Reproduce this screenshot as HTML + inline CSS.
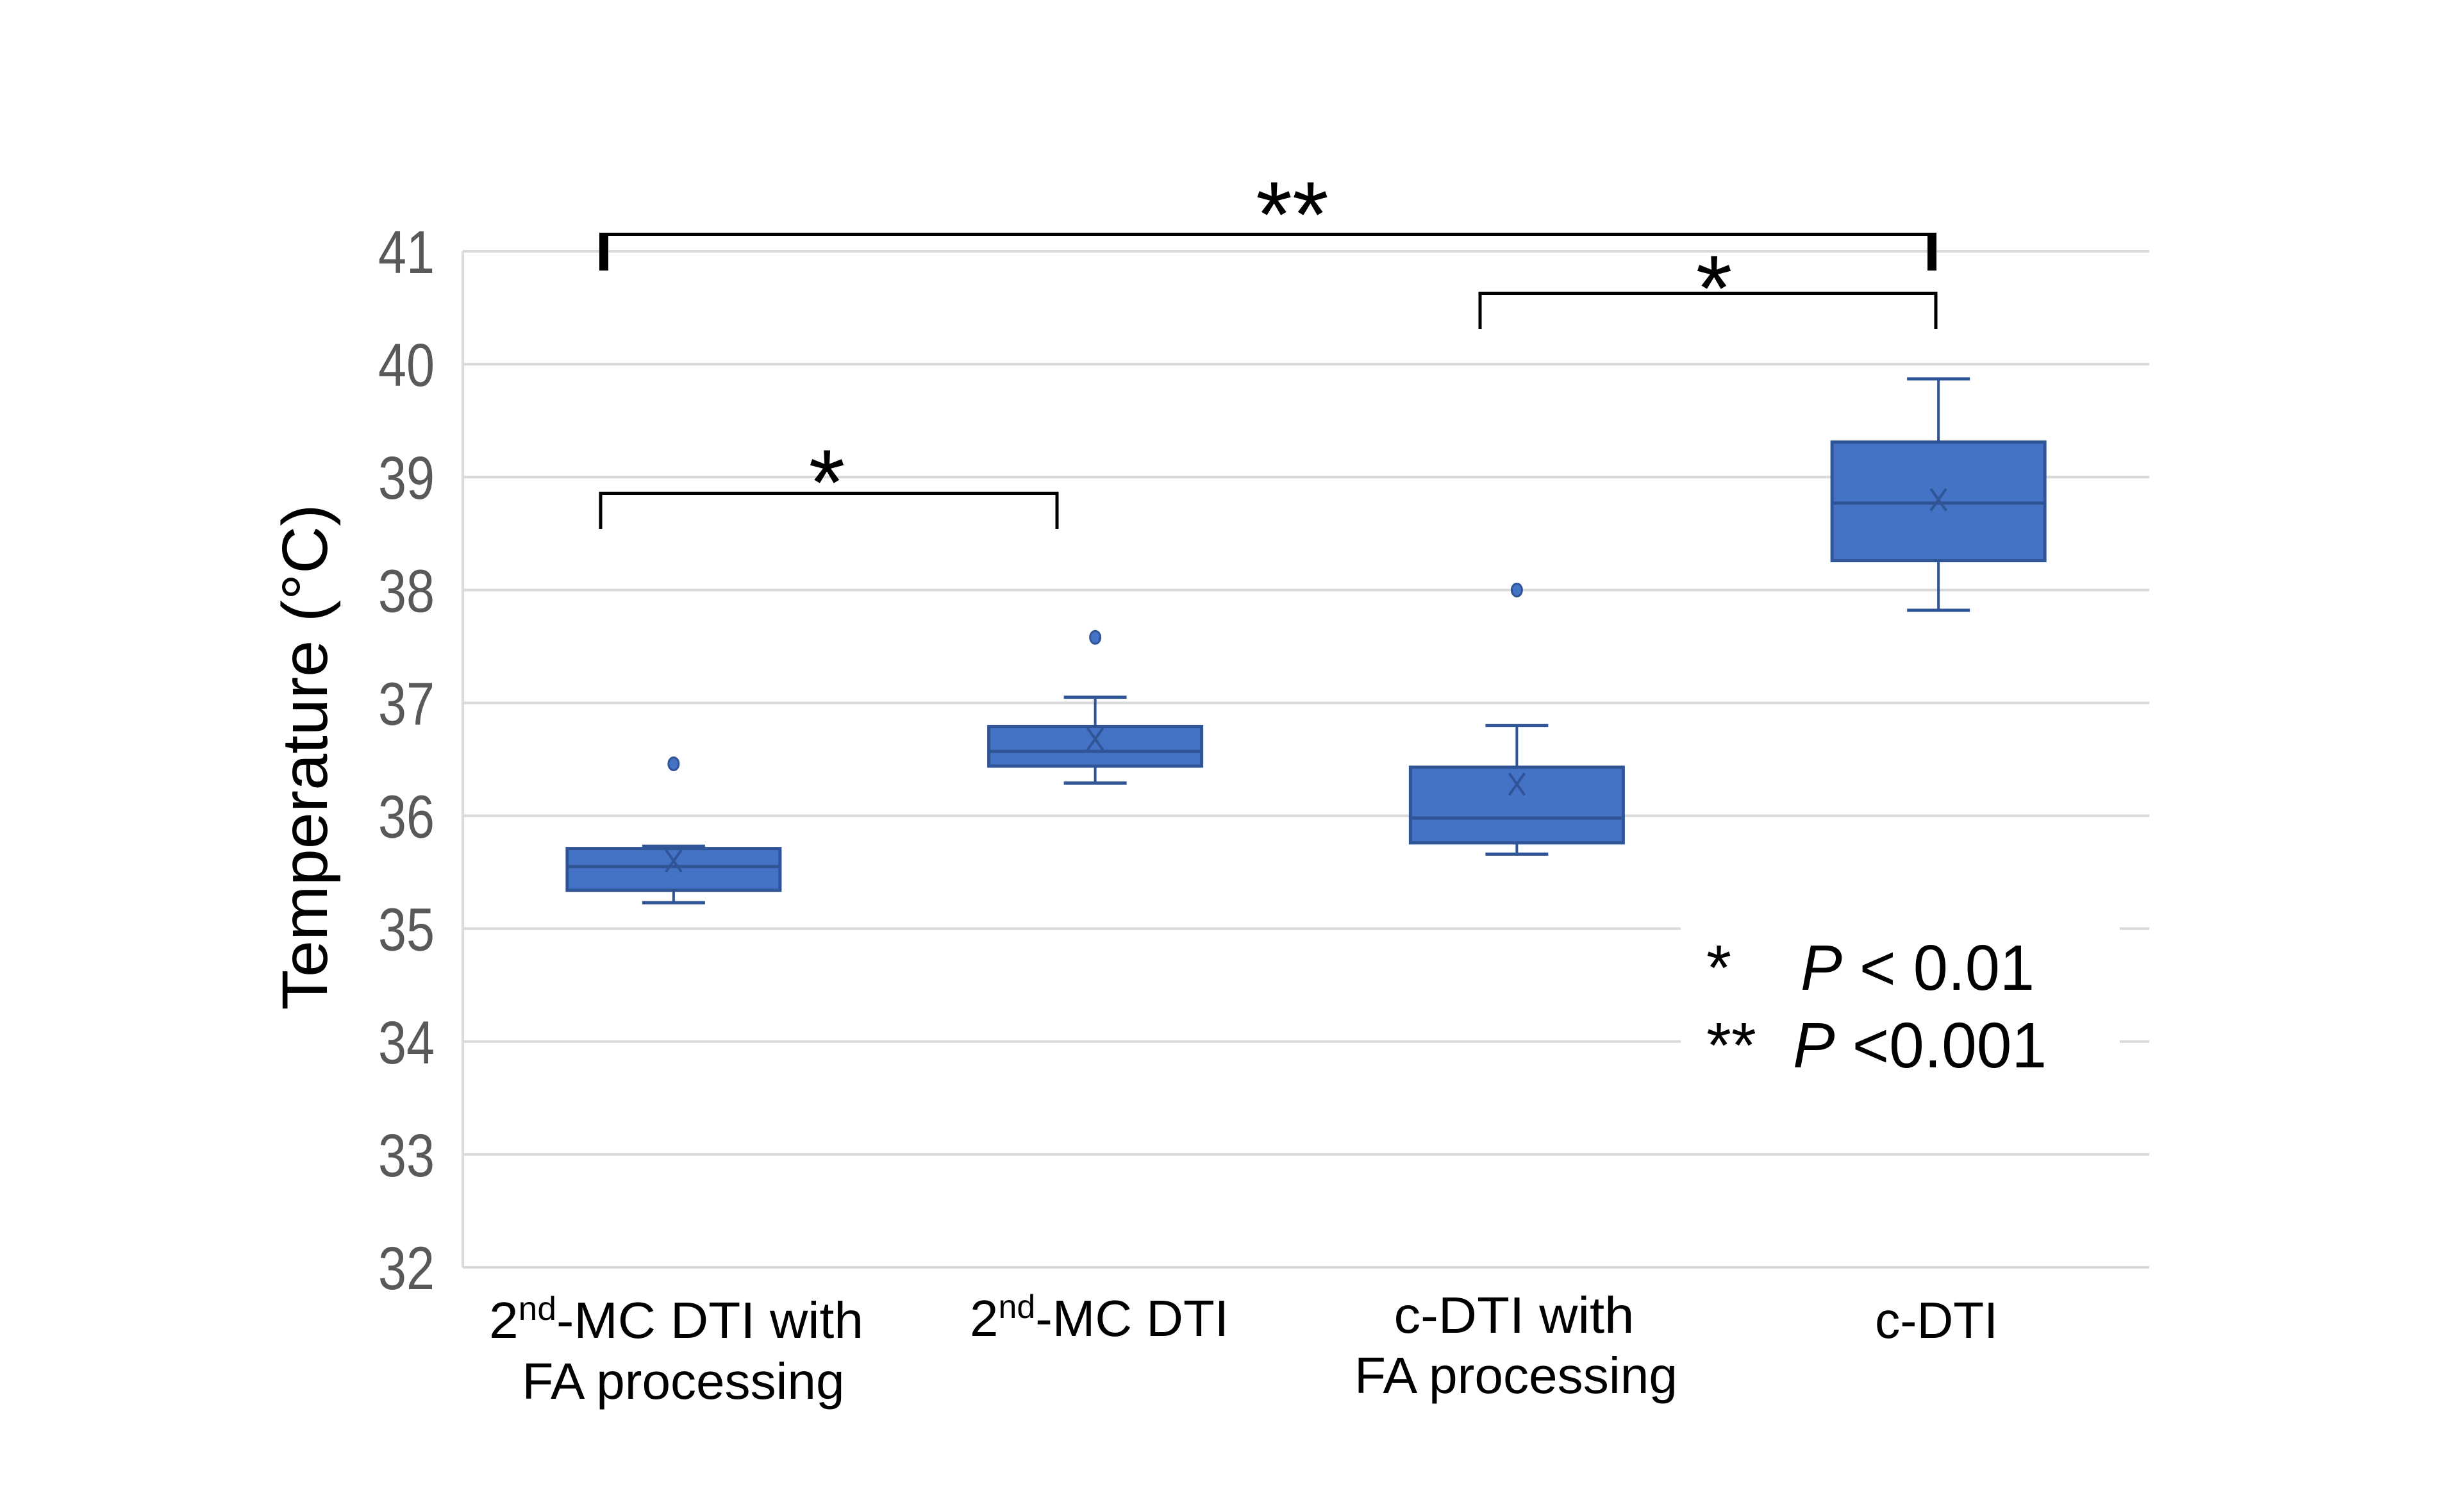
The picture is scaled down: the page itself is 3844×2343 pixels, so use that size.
<!DOCTYPE html>
<html><head><meta charset="utf-8"><style>
html,body{margin:0;padding:0;background:#fff;}
svg{display:block;}
</style></head><body>
<svg id="chart" width="3844" height="2343" viewBox="0 0 3844 2343" xmlns="http://www.w3.org/2000/svg" font-family="'Liberation Sans', sans-serif">
<rect x="0" y="0" width="3844" height="2343" fill="#fff"/>
<g id="grid"></g>
<g id="yticks"></g>
<text transform="translate(510,1181) rotate(-90)" text-anchor="middle" font-size="100" textLength="789" lengthAdjust="spacingAndGlyphs" fill="#000">Temperature (°C)</text>
<g id="boxes"></g>
<g font-size="80" fill="#000" text-anchor="middle">
  <text x="1055" y="2087" textLength="584" lengthAdjust="spacingAndGlyphs">2<tspan font-size="52" dy="-28">nd</tspan><tspan dy="28">-MC DTI with</tspan></text>
  <text x="1066" y="2182" textLength="503" lengthAdjust="spacingAndGlyphs">FA processing</text>
  <text x="1715" y="2084" textLength="404" lengthAdjust="spacingAndGlyphs">2<tspan font-size="52" dy="-28">nd</tspan><tspan dy="28">-MC DTI</tspan></text>
  <text x="2362" y="2079" textLength="375" lengthAdjust="spacingAndGlyphs">c-DTI with</text>
  <text x="2365" y="2173" textLength="504" lengthAdjust="spacingAndGlyphs">FA processing</text>
  <text x="3021" y="2087" textLength="192" lengthAdjust="spacingAndGlyphs">c-DTI</text>
</g>
<g stroke="#000" fill="none">
  <path d="M942 422 V365.5 H3014 V422" stroke-width="5"/>
  <line x1="942" y1="363" x2="942" y2="422" stroke-width="14"/>
  <line x1="3014" y1="363" x2="3014" y2="422" stroke-width="14"/>
  <path d="M2309 513 V457.5 H3020 V513" stroke-width="5"/>
  <path d="M937 825 V769.5 H1649 V825" stroke-width="5"/>
</g>
<g font-size="146" text-anchor="middle" fill="#000">
  <text x="2016" y="385">**</text>
  <text x="2674" y="500">*</text>
  <text x="1290" y="803">*</text>
</g>
<g font-size="100" fill="#000">
  <rect x="2622" y="1420" width="685" height="290" fill="#fff"/>
  <text x="2662" y="1544">*</text>
  <text x="2809" y="1544" textLength="365" lengthAdjust="spacingAndGlyphs"><tspan font-style="italic">P</tspan> &lt; 0.01</text>
  <text x="2662" y="1665">**</text>
  <text x="2797" y="1665" textLength="396" lengthAdjust="spacingAndGlyphs"><tspan font-style="italic">P</tspan> &lt;0.001</text>
</g>
</svg>
<script>
const categories = ["2nd-MC DTI with FA processing", "2nd-MC DTI", "c-DTI with FA processing", "c-DTI"];
const q1Values = [35.34, 36.44, 35.76, 38.26];
const q3Values = [35.71, 36.79, 36.43, 39.31];
const medianValues = [35.55, 36.57, 35.98, 38.77];
const meanValues = [35.6, 36.68, 36.28, 38.8];
const whiskerLow = [35.23, 36.29, 35.66, 37.82];
const whiskerHigh = [35.73, 37.05, 36.8, 39.87];
const outlierValues = [[36.46], [37.58], [38.0], []];
const yTicks = [32, 33, 34, 35, 36, 37, 38, 39, 40, 41];

const NS = "http://www.w3.org/2000/svg";
const plotLeft = 722, plotRight = 3353, yTop = 392, yBottom = 1977, yMin = 32, yMax = 41;
const yScale = v => yBottom - (v - yMin) / (yMax - yMin) * (yBottom - yTop);
const bandW = (plotRight - plotLeft) / categories.length;
const xCenter = i => plotLeft + bandW * (i + 0.5);

function mk(tag, attrs, parent) {
  const el = document.createElementNS(NS, tag);
  for (const k in attrs) el.setAttribute(k, attrs[k]);
  parent.appendChild(el);
  return el;
}

const grid = document.getElementById('grid');
const yt = document.getElementById('yticks');
yTicks.forEach(t => {
  const y = yScale(t);
  const l = mk('line', {x1: plotLeft, x2: plotRight, y1: y, y2: y, stroke: '#d9d9d9', 'stroke-width': 4}, grid);
  
  
  const tx = mk('text', {x: 678, y: y + 34, 'text-anchor': 'end', 'font-size': 95, fill: '#595959', textLength: 88, lengthAdjust: 'spacingAndGlyphs'}, yt);
  tx.textContent = String(t);
  
  
});
const ax = mk('line', {x1: plotLeft, x2: plotLeft, y1: yTop, y2: yBottom, stroke: '#d9d9d9', 'stroke-width': 4}, grid);



const boxes = document.getElementById('boxes');
const halfW = 166, capW = 49, stroke = '#2F5597', fill = '#4472C4';
categories.forEach((c, i) => {
  const cx = xCenter(i);
  const g = mk('g', {}, boxes);
  
  
  const w1 = mk('line', {x1: cx, x2: cx, y1: yScale(whiskerHigh[i]), y2: yScale(q3Values[i]), stroke: stroke, 'stroke-width': 4}, g);
  
  
  const w2 = mk('line', {x1: cx, x2: cx, y1: yScale(q1Values[i]), y2: yScale(whiskerLow[i]), stroke: stroke, 'stroke-width': 4}, g);
  
  
  const c1 = mk('line', {x1: cx - capW, x2: cx + capW, y1: yScale(whiskerHigh[i]), y2: yScale(whiskerHigh[i]), stroke: stroke, 'stroke-width': 5}, g);
  
  
  const c2 = mk('line', {x1: cx - capW, x2: cx + capW, y1: yScale(whiskerLow[i]), y2: yScale(whiskerLow[i]), stroke: stroke, 'stroke-width': 5}, g);
  
  
  const r = mk('rect', {x: cx - halfW, y: yScale(q3Values[i]), width: 2 * halfW, height: yScale(q1Values[i]) - yScale(q3Values[i]), fill: fill, stroke: stroke, 'stroke-width': 5}, g);
  
  
  const m = mk('line', {x1: cx - halfW, x2: cx + halfW, y1: yScale(medianValues[i]), y2: yScale(medianValues[i]), stroke: stroke, 'stroke-width': 5}, g);
  
  
  const my = yScale(meanValues[i]);
  const mx = mk('path', {d: `M${cx-12} ${my-17} L${cx+12} ${my+17} M${cx+12} ${my-17} L${cx-12} ${my+17}`, stroke: stroke, 'stroke-width': 4, fill: 'none'}, g);
  
  
  outlierValues[i].forEach(v => {
    const o = mk('ellipse', {cx: cx, cy: yScale(v), rx: 8, ry: 10, fill: fill, stroke: stroke, 'stroke-width': 3}, g);
    
    
  });
});
</script>
</body></html>
